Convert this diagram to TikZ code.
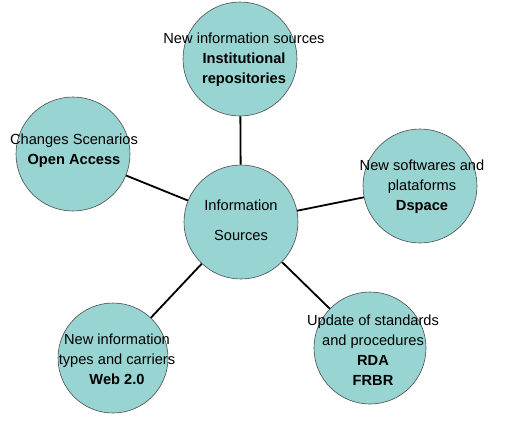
\documentclass[tikz,border=0pt]{standalone}
\usepackage{fontspec}
\setmainfont{Liberation Sans}
\definecolor{bubble}{RGB}{152,212,210}
\begin{document}
\begin{tikzpicture}[x=1bp,y=-1bp,
  bub/.style={circle,fill=bubble,draw=black!70,line width=0.6bp,minimum size=114bp,inner sep=0pt},
  txt/.style={font=\fontsize{14.7}{20}\selectfont,align=center,inner sep=0pt},
  conn/.style={draw=black,line width=1.8bp}]
\useasboundingbox (0,0) rectangle (509,425);
\node[bub] (c) at (241,222) {};
\node[bub] (t) at (240,59) {};
\node[bub] (l) at (73,154) {};
\node[bub] (r) at (420,186) {};
\node[bub,minimum size=112bp] (br) at (370,348) {};
\node[bub,minimum size=110bp] (bl) at (113,358) {};
\draw[conn] (c) -- (t);
\draw[conn] (c) -- (l);
\draw[conn] (c) -- (r);
\draw[conn] (c) -- (br);
\draw[conn] (c) -- (bl);
\node[txt] (tc) at (241,220) {Information\\[10bp]Sources};
\node[txt] (tt) at (244,60) {New information sources\\\textbf{Institutional}\\\textbf{repositories}};
\node[txt] (tl) at (74,151) {Changes Scenarios\\\textbf{Open Access}};
\node[txt] (tr) at (422,187) {New softwares and\\plataforms\\\textbf{Dspace}};
\node[txt] (tbr) at (373,350) {Update of standards\\and procedures\\\textbf{RDA}\\\textbf{FRBR}};
\node[txt] (tbl) at (117,359) {New information\\types and carriers\\\textbf{Web 2.0}};
\end{tikzpicture}
\end{document}
